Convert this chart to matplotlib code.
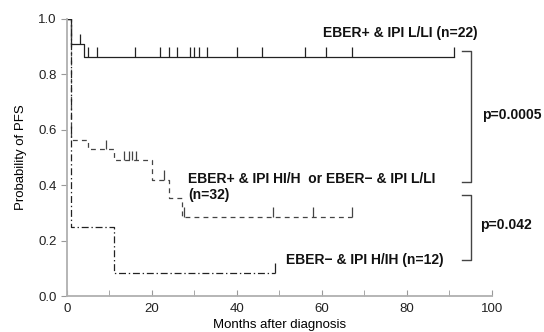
import numpy as np
import matplotlib.pyplot as plt

plt.rcParams['font.family'] = ['Liberation Sans', 'DejaVu Sans']
plt.rcParams['lines.scale_dashes'] = False

# EBER+ & IPI L/LI (n=22)
t_low = [0, 1, 4, 91]
s_low = [1.0, 0.909, 0.864, 0.864]
cens_low_t = [3, 5, 7, 16, 22, 24, 26, 29, 30, 31, 33, 40, 46, 56, 61, 67, 91]
cens_low_s = [0.909] + [0.864] * 16

# EBER+ & IPI HI/H or EBER- & IPI L/LI (n=32)
t_mid = [0, 1, 5, 11, 20, 24, 27, 67]
s_mid = [1.0, 0.5625, 0.53, 0.49, 0.42, 0.355, 0.285, 0.285]
cens_mid_t = [9.3, 13.5, 14.5, 15.3, 16.3, 22.8, 27.6, 48.5, 58, 67]
cens_mid_s = [0.53, 0.49, 0.49, 0.49, 0.49, 0.42, 0.285, 0.285, 0.285, 0.285]

# EBER- & IPI H/IH (n=12)
t_high = [0, 1, 11, 49]
s_high = [1.0, 0.25, 0.083, 0.083]
cens_high_t = [49]
cens_high_s = [0.083]

fig = plt.figure(figsize=(5.44, 3.32), dpi=100)
ax = fig.add_axes([0.123, 0.108, 0.781, 0.835])

tick_h = 0.035
ax.step(t_low, s_low, where='post', color='#222222', lw=0.9)
ax.vlines(cens_low_t, cens_low_s, np.array(cens_low_s) + tick_h, color='#222222', lw=0.9)

ax.step(t_mid, s_mid, where='post', color='#444444', lw=0.9, linestyle=(0, (3.5, 3)))
ax.vlines(cens_mid_t, cens_mid_s, np.array(cens_mid_s) + tick_h, color='#444444', lw=0.9)

ax.step(t_high, s_high, where='post', color='#222222', lw=0.9, linestyle=(0, (5, 2, 1, 2)))
ax.vlines(cens_high_t, cens_high_s, np.array(cens_high_s) + tick_h, color='#222222', lw=0.9)

ax.set_xlim(0, 100)
ax.set_ylim(0, 1)
ax.set_xticks(np.arange(0, 101, 20))
ax.set_xticks(np.arange(10, 100, 20), minor=True)
ax.set_yticks(np.arange(0, 1.01, 0.2))
ax.set_yticklabels(['0.0', '0.2', '0.4', '0.6', '0.8', '1.0'])
ax.tick_params(axis='x', which='both', direction='in', length=4, color='#999999',
               labelsize=9.5, labelcolor='#222222', pad=5)
ax.tick_params(axis='y', direction='out', length=4, color='#999999',
               labelsize=9.5, labelcolor='#222222')
for s in ['top', 'right']:
    ax.spines[s].set_visible(False)
for s in ['left', 'bottom']:
    ax.spines[s].set_color('#b0b0b0')
    ax.spines[s].set_linewidth(1.3)

ax.set_xlabel('Months after diagnosis', fontsize=9.5, labelpad=3)
ax.set_ylabel('Probability of PFS', fontsize=9.5, labelpad=8)

bold = dict(fontsize=10, fontweight='bold', color='#111111')
ax.text(78.4, 0.95, 'EBER+ & IPI L/LI (n=22)', ha='center', va='center', **bold)
ax.text(28.6, 0.422, 'EBER+ & IPI HI/H  or EBER\u2212 & IPI L/LI', ha='left', va='center', **bold)
ax.text(28.6, 0.365, '(n=32)', ha='left', va='center', **bold)
ax.text(51.5, 0.13, 'EBER\u2212 & IPI H/IH (n=12)', ha='left', va='center', **bold)

br = dict(color='#444444', lw=1.0, clip_on=False)
ax.plot([92.9, 95.0, 95.0, 92.9], [0.884, 0.884, 0.413, 0.413], **br)
ax.plot([92.9, 95.0, 95.0, 92.9], [0.365, 0.365, 0.13, 0.13], **br)
ax.text(97.6, 0.653, 'p=0.0005', ha='left', va='center', **bold)
ax.text(97.2, 0.256, 'p=0.042', ha='left', va='center', **bold)

fig.savefig('out.png', dpi=100)
